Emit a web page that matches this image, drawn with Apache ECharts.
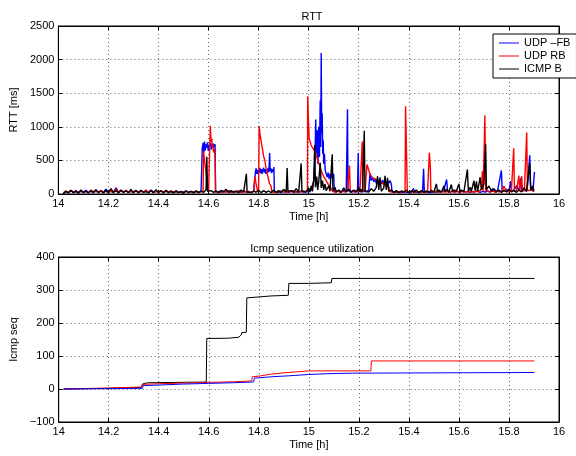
<!DOCTYPE html>
<html>
<head>
<meta charset="utf-8">
<script src="https://cdn.jsdelivr.net/npm/echarts@6/dist/echarts.min.js"></script>
<style>
  html, body { margin: 0; padding: 0; background: #fff; }
  #chart { width: 576px; height: 456px; }
</style>
</head>
<body>
<div id="chart"></div>
<script>
  // x ticks (hours)
  var timeTicks = [14, 14.2, 14.4, 14.6, 14.8, 15, 15.2, 15.4, 15.6, 15.8, 16];
  var seriesNames = ['UDP –FB', 'UDP RB', 'ICMP B'];

  // RTT [ms], pairs of [time h, rtt ms]
  var rttUdpFb = [
    [14.02,10],[14.03,35],[14.04,20],[14.05,45],[14.06,25],[14.07,50],[14.08,20],[14.09,40],[14.10,30],[14.11,55],
    [14.12,25],[14.13,40],[14.14,20],[14.15,60],[14.16,30],[14.17,45],[14.18,25],[14.19,70],[14.20,30],[14.21,40],
    [14.22,20],[14.23,90],[14.24,30],[14.25,45],[14.26,25],[14.27,50],[14.28,30],[14.29,40],[14.30,20],[14.31,55],
    [14.32,30],[14.33,45],[14.34,25],[14.35,40],[14.36,30],[14.37,60],[14.38,25],[14.39,40],[14.40,30],[14.41,45],
    [14.42,25],[14.43,50],[14.44,30],[14.45,40],[14.46,20],[14.47,35],[14.48,25],[14.49,40],[14.50,30],[14.51,45],
    [14.52,25],[14.53,40],[14.54,30],[14.55,35],[14.56,25],[14.57,40],
    [14.574,30],[14.575,680],[14.578,760],[14.581,620],[14.584,780],[14.587,650],[14.59,740],[14.593,690],[14.596,770],
    [14.599,640],[14.602,730],[14.605,700],[14.608,760],[14.611,660],[14.614,740],[14.617,690],[14.62,750],[14.623,700],
    [14.626,740],[14.628,30],
    [14.64,40],[14.65,25],[14.66,45],[14.67,30],[14.68,50],[14.69,25],[14.70,40],[14.71,30],[14.72,35],[14.73,25],
    [14.74,45],[14.75,30],[14.76,40],[14.77,25],[14.78,35],
    [14.786,30],[14.787,320],[14.79,380],[14.793,300],[14.796,360],[14.799,290],[14.802,340],[14.805,390],[14.808,310],
    [14.811,370],[14.814,300],[14.817,350],[14.82,390],[14.823,320],[14.826,370],[14.829,300],[14.832,360],[14.835,330],
    [14.838,390],[14.841,320],[14.844,610],[14.846,340],[14.849,380],[14.852,310],[14.855,370],[14.858,330],[14.861,400],
    [14.863,30],
    [14.87,40],[14.88,25],[14.89,45],[14.90,30],[14.91,40],[14.92,25],[14.93,50],[14.94,30],[14.95,40],[14.96,25],
    [14.97,45],[14.98,30],[14.99,40],
    [15.00,30],[15.01,60],[15.02,200],[15.025,500],[15.028,1110],[15.031,600],[15.034,950],[15.037,450],[15.04,1000],
    [15.043,550],[15.046,1390],[15.048,700],[15.05,2100],[15.052,900],[15.054,1200],[15.056,600],[15.058,800],[15.06,450],
    [15.063,600],[15.066,350],[15.07,300],[15.074,250],[15.078,320],[15.082,220],[15.086,300],[15.09,240],[15.094,310],
    [15.098,230],[15.1,300],[15.102,40],
    [15.11,30],[15.12,50],[15.13,30],[15.14,60],[15.15,30],[15.153,40],[15.155,1260],[15.157,60],[15.165,30],[15.175,45],
    [15.185,30],[15.195,40],[15.198,610],[15.2,50],[15.21,30],[15.22,40],[15.23,35],[15.24,60],[15.245,310],[15.25,200],
    [15.255,250],[15.26,180],[15.265,230],[15.27,160],[15.275,220],[15.28,170],[15.285,200],[15.29,150],[15.295,210],
    [15.3,160],[15.305,200],[15.31,150],[15.315,190],[15.32,160],[15.325,200],[15.33,150],[15.333,30],
    [15.34,40],[15.35,25],[15.36,35],[15.37,20],[15.38,40],[15.39,25],[15.40,30],[15.41,20],[15.418,80],[15.425,25],
    [15.435,30],[15.445,20],[15.455,40],[15.459,375],[15.462,30],[15.47,25],[15.48,40],[15.49,20],[15.50,35],[15.51,25],
    [15.52,40],[15.53,30],[15.54,60],[15.551,215],[15.555,40],[15.565,25],[15.575,45],[15.585,30],[15.595,40],[15.605,25],
    [15.615,50],[15.625,30],[15.635,40],[15.645,25],[15.655,35],[15.665,30],[15.675,50],[15.685,25],[15.695,40],[15.705,30],
    [15.715,45],[15.725,30],[15.735,80],[15.745,30],[15.755,60],[15.77,350],[15.773,40],[15.78,50],[15.79,70],[15.8,40],
    [15.807,190],[15.81,40],[15.82,60],[15.83,120],[15.84,50],[15.848,240],[15.852,50],[15.86,80],[15.87,40],[15.875,150],
    [15.883,575],[15.887,60],[15.892,100],[15.896,40],[15.902,330]
  ];

  var rttUdpRb = [
    [14.02,20],[14.03,40],[14.04,25],[14.05,55],[14.06,30],[14.07,40],[14.08,20],[14.09,50],[14.10,25],[14.11,35],
    [14.12,20],[14.13,60],[14.14,30],[14.15,40],[14.16,25],[14.17,50],[14.18,30],[14.19,40],[14.20,25],[14.21,45],
    [14.22,30],[14.23,70],[14.24,25],[14.25,45],[14.26,30],[14.27,55],[14.28,25],[14.29,40],[14.30,30],[14.31,50],
    [14.32,25],[14.33,40],[14.34,30],[14.35,60],[14.36,25],[14.37,45],[14.38,30],[14.39,40],[14.40,25],[14.41,50],
    [14.42,30],[14.43,40],[14.44,25],[14.45,45],[14.46,30],[14.47,40],[14.48,20],[14.49,35],[14.50,25],[14.51,40],
    [14.52,30],[14.53,35],[14.54,25],[14.55,40],[14.56,30],[14.57,35],
    [14.578,30],[14.58,640],[14.584,500],[14.588,380],[14.592,250],[14.596,120],[14.6,30],[14.603,40],[14.607,1015],
    [14.609,850],[14.611,780],[14.613,820],[14.615,700],[14.617,740],[14.62,620],[14.623,680],[14.626,560],[14.628,30],
    [14.64,35],[14.65,25],[14.66,40],[14.67,30],[14.68,45],[14.69,25],[14.70,40],[14.71,30],[14.72,50],[14.73,25],
    [14.74,40],[14.75,30],[14.76,35],[14.77,25],[14.78,40],[14.785,258],[14.79,150],[14.796,30],[14.8,60],[14.802,1010],
    [14.806,880],[14.811,760],[14.815,680],[14.82,560],[14.824,510],[14.83,380],[14.837,260],[14.843,160],[14.85,110],
    [14.853,30],
    [14.86,40],[14.87,25],[14.88,40],[14.89,30],[14.90,45],[14.91,25],[14.92,40],[14.93,30],[14.94,50],[14.95,25],
    [14.96,40],[14.97,30],[14.98,45],[14.99,30],[14.995,60],[14.996,1455],[14.999,1100],[15.002,815],[15.006,780],
    [15.01,720],[15.017,715],[15.024,640],[15.031,565],[15.038,480],[15.046,400],[15.053,315],[15.06,260],[15.068,210],
    [15.075,165],[15.082,120],[15.09,80],[15.095,40],
    [15.105,30],[15.115,45],[15.125,25],[15.135,40],[15.145,30],[15.155,50],[15.163,425],[15.166,40],[15.175,30],
    [15.185,50],[15.195,30],[15.205,40],[15.214,780],[15.217,40],[15.225,50],[15.233,440],[15.238,380],[15.244,300],
    [15.25,265],[15.256,240],[15.262,220],[15.27,210],[15.278,200],[15.285,190],[15.292,170],[15.3,140],[15.31,120],
    [15.32,100],[15.325,30],
    [15.335,40],[15.345,25],[15.355,35],[15.365,30],[15.375,40],[15.385,30],[15.387,1305],[15.392,1280],[15.394,40],
    [15.405,30],[15.415,45],[15.425,25],[15.435,40],[15.445,30],[15.455,35],[15.465,25],[15.475,40],[15.482,615],
    [15.486,400],[15.488,40],[15.5,30],[15.51,45],[15.52,25],[15.53,40],[15.54,30],[15.55,35],[15.56,25],[15.57,40],
    [15.58,30],[15.59,45],[15.6,25],[15.61,40],[15.62,30],[15.63,35],[15.64,25],[15.65,40],[15.66,30],[15.67,45],
    [15.68,25],[15.69,80],[15.694,340],[15.697,40],[15.704,1170],[15.707,60],[15.715,40],[15.725,30],[15.735,45],
    [15.745,30],[15.755,40],[15.765,30],[15.775,60],[15.78,120],[15.79,40],[15.8,30],[15.81,50],[15.819,680],[15.822,40],
    [15.83,50],[15.84,275],[15.843,40],[15.851,265],[15.854,40],[15.862,50],[15.871,915],[15.874,50],[15.88,40],
    [15.89,60],[15.9,40]
  ];

  var rttIcmp = [
    [14.02,5],[14.03,45],[14.04,15],[14.05,55],[14.06,20],[14.07,40],[14.08,10],[14.09,60],[14.10,20],[14.11,45],
    [14.12,15],[14.13,50],[14.14,25],[14.15,65],[14.16,20],[14.17,45],[14.18,15],[14.19,55],[14.20,20],[14.21,80],
    [14.22,25],[14.23,50],[14.24,15],[14.25,60],[14.26,25],[14.27,45],[14.28,20],[14.29,70],[14.30,20],[14.31,50],
    [14.32,15],[14.33,55],[14.34,25],[14.35,40],[14.36,15],[14.37,50],[14.38,20],[14.39,65],[14.40,25],[14.41,45],
    [14.42,15],[14.43,55],[14.44,20],[14.45,40],[14.46,15],[14.47,50],[14.48,20],[14.49,35],[14.50,10],[14.51,45],
    [14.52,20],[14.53,40],[14.54,15],[14.55,50],[14.56,20],[14.57,45],[14.58,25],[14.59,60],[14.593,555],[14.596,40],
    [14.60,20],[14.61,50],[14.62,25],[14.63,45],[14.64,20],[14.65,55],[14.66,25],[14.67,70],[14.68,20],[14.69,50],
    [14.70,25],[14.71,45],[14.72,20],[14.73,60],[14.74,25],[14.751,300],[14.754,30],[14.76,50],[14.77,20],[14.78,45],
    [14.79,25],[14.80,55],[14.81,20],[14.82,50],[14.83,25],[14.84,45],[14.85,20],[14.86,60],[14.87,25],[14.88,50],
    [14.89,20],[14.90,70],[14.91,30],[14.914,385],[14.917,40],[14.93,50],[14.94,25],[14.95,80],[14.96,30],[14.97,455],
    [14.973,40],[14.98,60],[14.99,30],[15.0,90],[15.005,30],[15.01,120],[15.015,40],[15.02,200],[15.024,730],[15.027,100],
    [15.032,260],[15.036,60],[15.04,180],[15.046,465],[15.05,90],[15.055,200],[15.06,60],[15.065,150],[15.07,50],
    [15.08,120],[15.085,40],[15.094,590],[15.097,50],[15.105,100],[15.11,30],[15.12,60],[15.13,25],[15.14,90],[15.15,30],
    [15.16,70],[15.17,25],[15.18,60],[15.19,30],[15.2,100],[15.205,30],[15.21,70],[15.215,30],[15.222,940],[15.225,40],
    [15.23,60],[15.24,30],[15.25,80],[15.26,40],[15.27,100],[15.275,265],[15.28,60],[15.285,250],[15.29,40],[15.3,90],
    [15.305,270],[15.31,60],[15.315,240],[15.32,40],[15.33,60],[15.34,25],[15.35,50],[15.36,20],[15.37,45],[15.38,25],
    [15.39,55],[15.40,20],[15.41,45],[15.42,25],[15.43,60],[15.44,20],[15.45,50],[15.46,25],[15.47,45],[15.48,20],
    [15.49,55],[15.50,25],[15.51,150],[15.515,30],[15.52,60],[15.53,25],[15.54,120],[15.545,30],[15.55,70],[15.56,30],
    [15.57,140],[15.575,30],[15.58,60],[15.59,40],[15.6,150],[15.605,30],[15.61,60],[15.62,30],[15.634,365],[15.638,40],
    [15.645,100],[15.65,40],[15.66,200],[15.665,50],[15.67,190],[15.675,40],[15.685,250],[15.69,60],[15.7,150],
    [15.707,740],[15.71,60],[15.72,120],[15.73,40],[15.74,80],[15.75,30],[15.76,60],[15.77,25],[15.78,50],[15.79,30],
    [15.80,70],[15.81,30],[15.82,50],[15.83,25],[15.84,60],[15.85,30],[15.86,90],[15.87,40],[15.883,465],[15.887,60],
    [15.895,120],[15.9,40]
  ];

  // icmp sequence counters, [time h, seq]
  var seqUdpFb = [
    [14.02,0],[14.2,1],[14.335,2],[14.337,10],[14.4,12],[14.5,15],[14.6,17],[14.7,19],[14.77,21],[14.78,22],
    [14.782,33],[14.85,37],[14.92,40],[15.0,44],[15.1,47],[15.175,48],[15.18,50],[15.902,50]
  ];
  var seqUdpRb = [
    [14.02,0],[14.2,3],[14.33,6],[14.335,14],[14.4,16],[14.5,18],[14.6,20],[14.7,22],[14.76,24],[14.772,25],
    [14.774,37],[14.8,39],[14.85,45],[14.9,49],[14.95,52],[15.0,55],[15.1,55],[15.248,55],[15.25,85],[15.902,85]
  ];
  var seqIcmp = [
    [14.02,0],[14.2,2],[14.33,5],[14.335,15],[14.35,18],[14.36,19],[14.59,21],[14.592,153],[14.68,154],[14.72,157],
    [14.722,162],[14.73,164],[14.732,171],[14.75,172],[14.752,276],[14.8,279],[14.85,282],[14.918,284],[14.92,320],
    [15.0,320],[15.09,322],[15.092,335],[15.902,335]
  ];

  var colors = ['#0000ff', '#ff0000', '#000000'];
  var font = 'Liberation Sans, Arial, sans-serif';
  var gridDots = { color: '#666', type: [1, 3], width: 1 };

  function xAxisFor (gridIndex, mirror) {
    return {
      gridIndex: gridIndex,
      type: 'value',
      position: mirror ? 'top' : 'bottom',
      min: timeTicks[0],
      max: timeTicks[timeTicks.length - 1],
      interval: 0.2,
      name: mirror ? '' : 'Time [h]',
      nameLocation: 'middle',
      nameGap: 17,
      nameTextStyle: { color: '#000', fontSize: 11, fontFamily: font },
      axisLine: { show: true, onZero: false, lineStyle: { color: '#000', width: 1 } },
      axisTick: { show: true, inside: true, length: 4, lineStyle: { color: '#000' } },
      axisLabel: { show: !mirror, color: '#000', fontSize: 11, fontFamily: font, margin: 4 },
      splitLine: { show: !mirror, lineStyle: gridDots }
    };
  }

  function yAxisFor (gridIndex, name, min, max, interval, mirror) {
    return {
      gridIndex: gridIndex,
      type: 'value',
      position: mirror ? 'right' : 'left',
      min: min,
      max: max,
      interval: interval,
      name: mirror ? '' : name,
      nameLocation: 'middle',
      nameGap: 30,
      nameTextStyle: { color: '#000', fontSize: 11, fontFamily: font },
      axisLine: { show: true, onZero: false, lineStyle: { color: '#000', width: 1 } },
      axisTick: { show: true, inside: true, length: 4, lineStyle: { color: '#000' } },
      axisLabel: {
        show: !mirror, color: '#000', fontSize: 11, fontFamily: font, margin: 4,
        formatter: function (v) { return String(v).replace('-', '\u2212'); }
      },
      splitLine: { show: !mirror, lineStyle: gridDots }
    };
  }

  function lineSeries (name, data, color, axisIndex, width) {
    return {
      name: name,
      type: 'line',
      xAxisIndex: axisIndex,
      yAxisIndex: axisIndex,
      data: data,
      showSymbol: false,
      symbol: 'none',
      sampling: null,
      lineStyle: { color: color, width: width },
      itemStyle: { color: color },
      emphasis: { disabled: true }
    };
  }

  var myChart = echarts.init(document.getElementById('chart'), null, { renderer: 'canvas' });
  myChart.setOption({
    animation: false,
    backgroundColor: '#fff',
    title: [{
      text: 'RTT',
      left: 307,
      top: 6,
      textAlign: 'center',
      textStyle: { fontSize: 11, fontWeight: 'normal', color: '#000', fontFamily: font }
    }, {
      text: 'Icmp sequence utilization',
      left: 307,
      top: 238,
      textAlign: 'center',
      textStyle: { fontSize: 11, fontWeight: 'normal', color: '#000', fontFamily: font }
    }],
    legend: {
      data: seriesNames,
      orient: 'vertical',
      left: 493,
      top: 34,
      padding: [3, 6, 3, 6],
      itemGap: 1,
      itemWidth: 20,
      itemHeight: 1,
      icon: 'rect',
      backgroundColor: '#fff',
      borderColor: '#000',
      borderWidth: 1,
      borderRadius: 0,
      selectedMode: false,
      textStyle: { color: '#000', fontSize: 11, fontFamily: font, lineHeight: 12 }
    },
    grid: [{
      left: 56, right: 17, top: 26, height: 168,
      show: true, borderColor: '#000', borderWidth: 1, backgroundColor: '#fff'
    }, {
      left: 56, right: 17, top: 257, height: 165,
      show: true, borderColor: '#000', borderWidth: 1, backgroundColor: '#fff'
    }],
    xAxis: [xAxisFor(0, false), xAxisFor(1, false), xAxisFor(0, true), xAxisFor(1, true)],
    yAxis: [
      yAxisFor(0, 'RTT [ms]', 0, 2500, 500, false),
      yAxisFor(1, 'Icmp seq', -100, 400, 100, false),
      yAxisFor(0, '', 0, 2500, 500, true),
      yAxisFor(1, '', -100, 400, 100, true)
    ],
    series: [
      lineSeries(seriesNames[0], rttUdpFb, colors[0], 0, 1.4),
      lineSeries(seriesNames[1], rttUdpRb, colors[1], 0, 1.4),
      lineSeries(seriesNames[2], rttIcmp, colors[2], 0, 1.4),
      lineSeries('seq ' + seriesNames[2], seqIcmp, colors[2], 1, 1),
      lineSeries('seq ' + seriesNames[1], seqUdpRb, colors[1], 1, 1),
      lineSeries('seq ' + seriesNames[0], seqUdpFb, colors[0], 1, 1)
    ]
  });
</script>
</body>
</html>
